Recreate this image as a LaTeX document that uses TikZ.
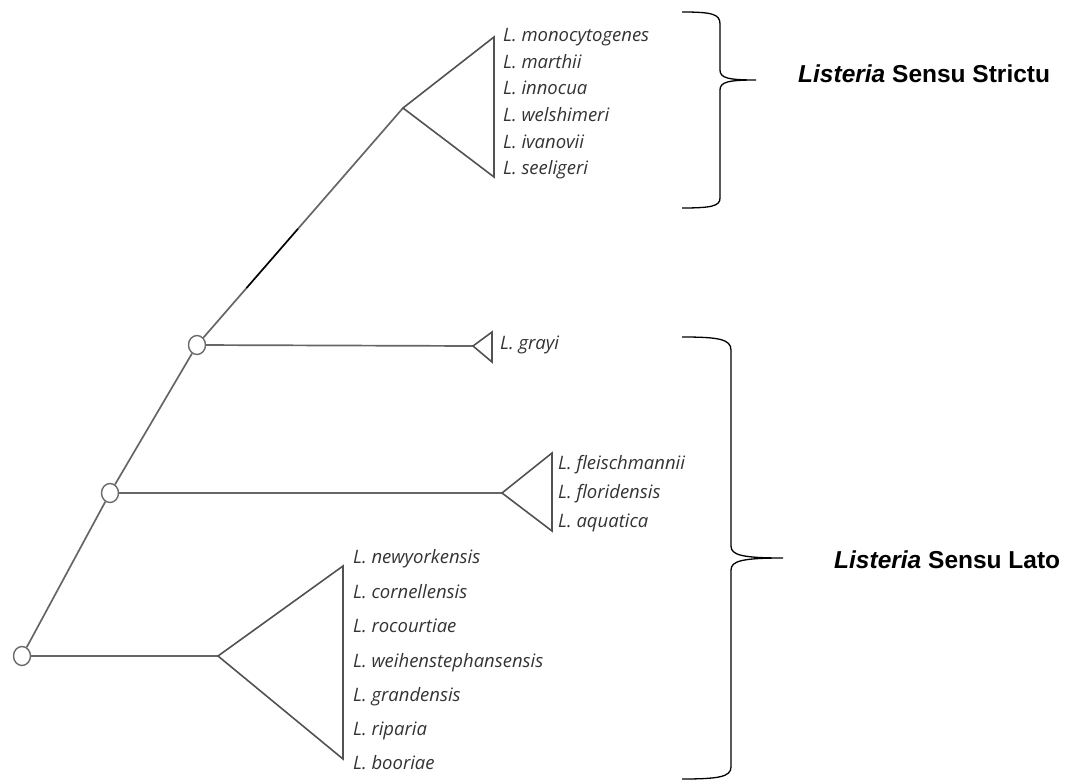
\documentclass[tikz,border=0pt]{standalone}
\usepackage{fontspec}
\usetikzlibrary{calc,shapes.geometric}
\setmainfont{Liberation Sans}
\newfontfamily\labfont{Open Sans}
\begin{document}
\begin{tikzpicture}[x=1pt,y=-1pt,
  branch/.style={draw=black!60, line width=1.7pt, line join=miter},
  clade/.style={draw=black!68, line width=1.6pt, line join=miter},
  inode/.style={ellipse, draw=black!58, fill=white, line width=1.4pt, minimum width=17pt, minimum height=19pt, inner sep=0pt},
  taxon/.style={anchor=mid west, inner sep=0pt, text=black!80, font=\labfont\itshape\fontsize{18.5}{20}\selectfont},
  brace/.style={draw=black, line width=1.3pt},
  grouplab/.style={anchor=mid west, inner sep=0pt, font=\bfseries\fontsize{24.5}{28}\selectfont}
]
\useasboundingbox (0,0) rectangle (1076,781);
% internal circle nodes
\node[inode] (root) at (22,656) {};
\node[inode] (n2) at (110,493) {};
\node[inode] (n3) at (197,345) {};
% branch points / clade corners
\coordinate (c1) at (403,108);
\coordinate (c1t) at (494,37);
\coordinate (c1b) at (494,177);
\coordinate (g) at (473,346);
\coordinate (gt) at (492,332);
\coordinate (gb) at (492,362);
\coordinate (f) at (502,493);
\coordinate (ft) at (552,453);
\coordinate (fb) at (552,531);
\coordinate (b) at (218,656);
\coordinate (bt) at (343,566);
\coordinate (bb) at (343,759);
% branches
\draw[branch] (root) -- (n2);
\draw[branch] (n2) -- (n3);
\draw[branch] (n3) -- (c1);
\draw[branch] (n3) -- (g);
\draw[branch] (n2) -- (f);
\draw[branch] (root) -- (b);
% dark overlay stroke on the long branch
\draw[black, line width=1.4pt] ($(n3)!0.24!(c1)$) -- ($(n3)!0.49!(c1)$);
% collapsed clades
\draw[clade] (c1t) -- (c1) -- (c1b) -- cycle;
\draw[clade] (gt) -- (g) -- (gb) -- cycle;
\draw[clade] (ft) -- (f) -- (fb) -- cycle;
\draw[clade] (bt) -- (b) -- (bb) -- cycle;
% taxa
\node[taxon] (t1) at (503,39) {L. monocytogenes};
\node[taxon] (t2) at (503,65.6) {L. marthii};
\node[taxon] (t3) at (503,92.2) {L. innocua};
\node[taxon] (t4) at (503,118.8) {L. welshimeri};
\node[taxon] (t5) at (503,145.4) {L. ivanovii};
\node[taxon] (t6) at (503,172) {L. seeligeri};
\node[taxon] (t7) at (500,347) {L. grayi};
\node[taxon] (t8) at (558,467) {L. fleischmannii};
\node[taxon] (t9) at (558,496) {L. floridensis};
\node[taxon] (t10) at (558,525) {L. aquatica};
\node[taxon] (t11) at (353,561) {L. newyorkensis};
\node[taxon] (t12) at (353,595.5) {L. cornellensis};
\node[taxon] (t13) at (353,630) {L. rocourtiae};
\node[taxon] (t14) at (353,664.5) {L. weihenstephansensis};
\node[taxon] (t15) at (353,699) {L. grandensis};
\node[taxon] (t16) at (353,733) {L. riparia};
\node[taxon] (t17) at (353,767) {L. booriae};
% braces
\coordinate (s1) at (682,12);
\coordinate (s2) at (756,80);
\coordinate (s3) at (682,208);
\draw[brace] (s1) .. controls (712,12) and (720,14) .. (720,24) -- (720,70)
  .. controls (720,78) and (728,80) .. (s2)
  .. controls (728,80) and (720,82) .. (720,90) -- (720,198)
  .. controls (720,206) and (712,208) .. (s3);
\coordinate (l1) at (682,337);
\coordinate (l2) at (783,558);
\coordinate (l3) at (682,779);
\draw[brace] (l1) .. controls (718,337) and (731,339) .. (731,350) -- (731,546)
  .. controls (731,555) and (742,558) .. (l2)
  .. controls (742,558) and (731,561) .. (731,570) -- (731,767)
  .. controls (731,777) and (718,779) .. (l3);
\node[grouplab] (gs) at (798,80) {\textit{Listeria} Sensu Strictu};
\node[grouplab] (gl) at (834,566) {\textit{Listeria} Sensu Lato};
\end{tikzpicture}
\end{document}
